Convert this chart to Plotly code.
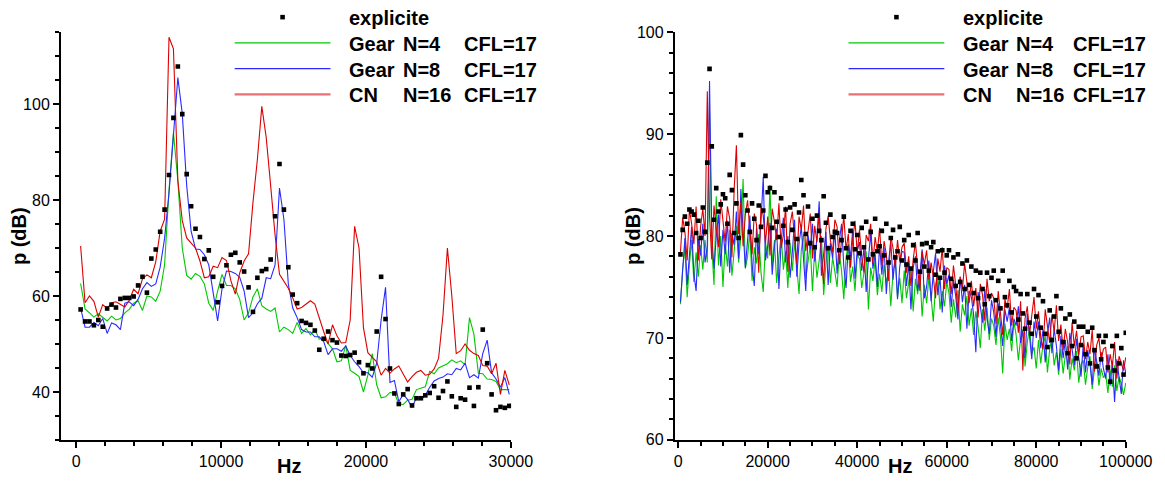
import numpy as np
import plotly.graph_objects as go

# ------------------------------------------------------------------
# Left panel: 0 - 30 kHz, spectra sampled every 305 Hz
# ------------------------------------------------------------------
DF_LEFT = 305.0

left_explicite = [
    57.2, 54.7, 54.7, 53.9, 55.0, 53.6, 57.4, 58.2, 57.6, 59.4,
    59.6, 59.6, 59.9, 62.2, 64.0, 60.7, 67.8, 69.7, 73.4, 78.0,
    85.2, 97.1, 107.8, 97.9, 85.4, 78.7, 74.0, 72.3, 67.7, 69.5,
    64.0, 58.7, 62.1, 66.4, 68.6, 69.0, 67.0, 65.1, 61.8, 56.7,
    63.8, 65.2, 65.6, 67.6, 76.6, 87.5, 78.0, 66.0, 60.3, 58.5,
    54.8, 54.4, 54.0, 52.8, 48.8, 51.1, 52.6, 50.8, 50.3, 47.6,
    47.5, 47.7, 48.2, 46.2, 43.9, 45.6, 44.9, 52.6, 64.0, 55.2,
    44.9, 39.7, 37.5, 39.5, 40.6, 37.2, 38.7, 38.7, 39.3, 39.8,
    41.2, 38.8, 40.2, 42.2, 39.1, 36.9, 38.7, 38.4, 40.9, 37.1,
    41.0, 53.0, 46.0, 39.5, 36.2, 36.9, 36.7, 37.1,
]

left_gear4 = [
    62.6, 57.3, 56.5, 55.6, 56.3, 55.5, 54.8, 55.8, 55.0, 55.3,
    56.5, 57.2, 58.5, 59.0, 57.0, 60.0, 59.8, 58.9, 61.0, 66.5,
    82.0, 94.0, 84.0, 70.0, 64.3, 63.5, 64.7, 64.1, 62.5, 58.5,
    57.0, 61.0, 64.5, 62.2, 62.2, 61.5, 59.3, 55.0, 56.5, 59.8,
    61.5, 58.0, 57.3, 56.8, 57.5, 52.5, 53.5, 53.0, 52.2, 54.5,
    52.2, 53.2, 51.9, 53.0, 51.0, 51.2, 50.2, 49.0, 46.3, 46.5,
    49.7, 44.5, 43.9, 43.2, 40.0, 43.5, 48.0, 41.5, 38.8, 39.0,
    39.9, 39.8, 37.5, 37.4, 38.3, 38.5, 40.5, 40.8, 41.1, 44.3,
    43.8, 45.0, 45.4, 45.9, 46.7, 46.1, 46.5, 45.7, 55.5, 52.0,
    43.9, 43.8, 42.7, 42.6, 42.2, 40.5, 40.5, 40.5,
]

left_gear8 = [
    57.5, 53.5, 53.5, 54.5, 53.8, 55.3, 52.2, 54.4, 54.0, 53.0,
    58.5, 58.8, 58.0, 59.3, 61.5, 62.8, 62.0, 62.5, 66.0, 72.0,
    81.5, 93.0, 105.5, 98.0, 83.0, 73.5, 69.8, 69.7, 68.6, 66.5,
    61.0, 54.8, 61.5, 65.2, 65.1, 64.7, 63.9, 61.0, 55.5, 56.5,
    58.4, 59.5, 63.8, 63.6, 66.5, 82.5, 76.0, 62.5, 57.5, 55.5,
    53.0, 52.5, 52.5, 51.5, 51.5, 50.5, 47.8, 49.0, 49.0, 48.5,
    49.6, 47.6, 46.3, 45.3, 44.0, 44.0, 43.1, 46.0, 55.0, 61.8,
    42.0, 42.4, 38.0, 39.5, 38.4, 36.8, 38.8, 38.4, 39.3, 41.0,
    42.3, 42.8, 43.1, 43.8, 43.6, 44.9, 44.6, 46.0, 43.0, 43.6,
    42.9, 48.0, 50.8, 44.0, 42.7, 41.0, 43.0, 39.5,
]

left_cn16 = [
    70.4, 58.6, 60.0, 58.9, 55.6, 58.2, 57.4, 58.6, 58.8, 58.2,
    57.7, 59.1, 61.4, 60.5, 63.6, 64.4, 63.8, 67.1, 73.5, 76.0,
    113.9, 111.5, 84.0, 75.7, 72.1, 71.0, 70.0, 67.3, 63.8, 64.0,
    66.2, 65.9, 68.0, 67.4, 63.2, 60.4, 64.8, 67.3, 68.8, 79.5,
    88.5, 99.5, 93.0, 83.0, 72.7, 64.5, 63.0, 61.6, 59.6, 57.3,
    57.6, 58.3, 59.0, 58.3, 55.3, 52.6, 50.0, 54.0, 51.7, 50.2,
    50.3, 55.0, 74.5, 70.0, 53.4, 48.2, 47.2, 46.3, 43.5, 44.9,
    43.9, 44.8, 45.4, 43.6, 42.1, 43.2, 44.1, 44.5, 43.5, 43.7,
    44.8, 47.0, 56.0, 70.0, 60.0, 48.0, 48.6, 50.0, 48.7, 48.0,
    47.6, 45.5, 45.4, 43.8, 46.0, 39.5, 44.5, 41.5,
]

# ------------------------------------------------------------------
# Right panel: 0 - 100 kHz, spectra sampled every 500 Hz
# ------------------------------------------------------------------
DF_RIGHT = 500.0

right_explicite = [
    78.2, 80.6, 81.9, 81.2, 82.6, 82.4, 82.1, 80.3, 81.5, 79.8,
    82.8, 80.4, 87.2, 96.4, 88.8, 81.6, 84.7, 82.4, 83.1, 84.1,
    83.7, 81.2, 86.0, 84.5, 80.3, 83.2, 79.8, 89.9, 87.0, 84.0,
    82.5, 80.4, 83.2, 81.7, 79.6, 83.0, 80.9, 82.5, 85.9, 84.3,
    84.7, 80.8, 84.3, 81.4, 79.9, 83.7, 81.0, 82.6, 79.4, 82.8,
    80.6, 83.1, 79.7, 82.3, 85.5, 84.0, 80.2, 82.9, 79.3, 81.7,
    78.9, 82.0, 80.5, 79.6, 83.9, 81.3, 78.8, 82.1, 79.9, 80.4,
    80.3, 78.6, 79.6, 81.9, 78.8, 77.9, 80.5, 81.2, 78.7, 80.1,
    78.3, 80.8, 78.9, 81.4, 77.7, 80.4, 78.2, 81.7, 78.5, 79.0,
    80.5, 78.1, 81.2, 77.4, 79.8, 80.6, 77.9, 78.5, 80.9, 77.6,
    79.6, 77.2, 80.1, 76.8, 79.1, 77.6, 80.3, 76.5, 79.2, 77.0,
    79.3, 76.6, 78.9, 79.4, 76.2, 78.5, 75.9, 78.6, 76.4, 78.1,
    78.6, 75.8, 77.9, 75.1, 78.2, 75.5, 77.3, 74.8, 77.6, 75.2,
    77.0, 74.4, 76.6, 73.9, 76.4, 74.8, 73.3, 76.4, 74.1, 75.9,
    76.6, 73.7, 75.6, 72.9, 76.6, 74.0, 73.2, 75.6, 72.5, 75.0,
    74.6, 71.8, 74.3, 72.4, 70.9, 74.3, 71.5, 70.4, 74.8, 72.1,
    74.2, 71.0, 73.6, 70.4, 69.1, 72.7, 69.8, 72.1, 74.1, 70.6,
    72.9, 69.6, 71.9, 68.5, 72.3, 69.2, 71.6, 68.0, 71.1, 69.3,
    71.1, 68.4, 70.6, 67.5, 71.0, 68.8, 67.2, 70.2, 67.9, 69.6,
    70.2, 67.1, 65.7, 69.2, 66.8, 70.2, 67.5, 69.0, 66.4, 70.5,
]

right_gear4 = [
    73.3, 76.8, 78.9, 74.0, 77.2, 79.6, 75.5, 78.4, 76.0, 79.1,
    76.7, 79.6, 77.4, 92.3, 79.0, 75.2, 83.9, 77.1, 80.0, 75.0,
    79.3, 77.0, 80.6, 76.1, 78.5, 81.0, 77.4, 79.9, 85.6, 76.8,
    78.0, 80.4, 75.6, 78.9, 77.3, 80.2, 76.4, 74.5, 79.4, 77.8,
    85.0, 77.1, 79.6, 75.4, 78.0, 80.1, 76.7, 78.5, 74.9, 79.3,
    76.6, 79.4, 77.0, 74.3, 78.6, 80.2, 75.8, 77.7, 79.1, 74.6,
    78.8, 75.9, 77.6, 80.0, 74.2, 77.3, 79.1, 75.4, 77.9, 76.5,
    75.0, 78.3, 76.6, 73.8, 77.9, 79.2, 75.5, 77.0, 74.6, 78.1,
    77.8, 74.9, 76.4, 78.5, 72.8, 76.9, 75.6, 77.7, 74.2, 76.3,
    74.5, 77.2, 75.3, 76.8, 73.1, 76.4, 77.6, 74.0, 75.9, 73.4,
    76.6, 73.9, 75.5, 77.0, 72.6, 75.8, 74.3, 76.4, 72.1, 75.2,
    73.4, 75.9, 74.0, 71.6, 75.2, 76.3, 72.8, 74.6, 73.1, 75.5,
    74.4, 71.5, 73.8, 72.0, 74.7, 70.6, 73.3, 72.2, 74.1, 71.2,
    72.9, 70.3, 72.6, 71.1, 69.0, 72.8, 70.7, 73.0, 69.8, 71.9,
    71.2, 69.3, 72.0, 70.1, 66.5, 71.4, 69.8, 70.9, 68.7, 71.6,
    70.3, 67.8, 69.9, 70.8, 67.2, 69.6, 71.0, 68.4, 69.1, 67.0,
    69.8, 67.5, 69.3, 70.2, 66.6, 68.9, 70.0, 67.3, 68.6, 66.4,
    68.9, 66.5, 68.3, 69.2, 65.9, 68.0, 66.8, 68.7, 65.6, 67.4,
    67.8, 65.4, 67.1, 68.2, 65.0, 66.9, 67.6, 65.3, 67.0, 66.1,
    66.5, 64.6, 66.9, 65.2, 67.3, 64.8, 66.2, 65.5, 64.4, 65.6,
]

right_gear8 = [
    73.5, 77.0, 79.8, 75.2, 78.6, 80.9, 76.3, 74.6, 79.7, 78.1,
    81.2, 77.4, 79.0, 95.2, 80.1, 76.8, 79.9, 82.1, 77.0, 80.6,
    78.2, 81.5, 76.4, 80.3, 79.1, 82.4, 77.8, 84.6, 80.5, 76.9,
    79.6, 82.0, 77.3, 75.1, 80.8, 78.2, 81.4, 85.8, 77.6, 79.0,
    81.3, 76.2, 78.9, 80.7, 74.8, 79.5, 81.8, 77.4, 80.0, 75.9,
    78.4, 81.6, 76.0, 79.3, 80.9, 77.2, 74.6, 80.1, 78.7, 81.2,
    77.5, 79.9, 83.4, 76.1, 78.6, 80.4, 75.2, 79.3, 77.8, 80.6,
    76.3, 79.5, 81.2, 77.0, 74.9, 79.1, 78.0, 80.7, 75.8, 78.6,
    79.4, 76.6, 78.9, 74.5, 77.7, 80.3, 76.8, 78.2, 75.0, 79.1,
    76.2, 78.9, 74.3, 77.5, 79.4, 75.7, 78.1, 73.8, 77.0, 78.5,
    78.4, 75.1, 77.3, 72.8, 76.9, 78.0, 74.6, 76.2, 78.7, 73.9,
    75.0, 77.6, 73.6, 76.5, 78.3, 74.2, 75.9, 72.5, 77.1, 75.3,
    76.2, 73.0, 75.7, 74.1, 71.8, 76.0, 73.5, 75.2, 70.9, 74.6,
    74.0, 72.3, 68.6, 74.5, 73.1, 71.5, 74.8, 72.0, 70.4, 73.7,
    72.5, 70.1, 73.4, 71.3, 69.2, 72.8, 71.6, 73.0, 69.7, 71.9,
    71.2, 73.1, 69.5, 70.7, 68.0, 72.4, 70.2, 67.9, 71.6, 70.0,
    71.6, 69.0, 70.8, 67.6, 70.3, 72.0, 68.5, 70.9, 69.2, 66.8,
    70.2, 68.0, 69.8, 66.9, 70.5, 68.7, 67.3, 69.9, 68.1, 66.2,
    69.4, 66.6, 68.8, 67.5, 65.4, 69.0, 67.7, 66.3, 68.6, 67.0,
    66.0, 68.4, 65.3, 67.7, 63.7, 67.9, 66.1, 64.5, 67.8, 66.5,
]

right_cn16 = [
    78.4, 81.8, 80.4, 77.6, 82.6, 81.2, 79.2, 82.9, 77.6, 80.9,
    82.7, 80.0, 94.2, 81.9, 77.7, 83.0, 80.8, 78.9, 83.6, 81.3,
    79.4, 82.9, 81.7, 77.9, 84.5, 88.9, 80.2, 83.4, 79.0, 82.1,
    83.5, 80.6, 78.2, 82.2, 81.1, 76.4, 83.0, 82.0, 79.3, 81.9,
    78.1, 82.7, 81.4, 79.6, 83.2, 78.8, 80.1, 82.9, 76.5, 81.2,
    82.4, 79.7, 77.3, 81.9, 80.6, 83.0, 78.5, 80.4, 82.2, 77.8,
    81.0, 79.4, 82.3, 78.1, 75.3, 80.7, 82.0, 79.6, 78.4, 81.6,
    80.9, 77.2, 79.8, 82.0, 78.6, 80.2, 76.9, 79.7, 81.5, 78.3,
    80.6, 78.0, 76.4, 80.1, 79.5, 81.2, 77.3, 79.9, 78.4, 80.8,
    77.1, 79.5, 78.2, 75.6, 80.0, 78.8, 76.9, 79.6, 77.5, 78.9,
    79.3, 76.4, 78.0, 75.1, 77.7, 79.4, 76.8, 74.6, 78.5, 77.2,
    78.6, 75.7, 77.4, 76.0, 73.9, 77.8, 76.5, 78.9, 74.8, 76.9,
    76.7, 74.3, 77.1, 75.2, 72.6, 76.0, 74.8, 77.3, 75.5, 73.4,
    75.6, 73.1, 74.9, 72.0, 75.3, 74.2, 71.7, 75.8, 73.6, 74.4,
    73.9, 71.4, 74.6, 72.5, 70.3, 73.8, 72.9, 74.8, 71.2, 73.0,
    72.7, 70.5, 73.6, 66.8, 71.9, 73.1, 70.4, 72.2, 74.0, 70.9,
    72.6, 70.1, 68.9, 72.8, 71.0, 69.5, 72.3, 70.6, 73.2, 69.7,
    71.3, 68.8, 70.9, 69.6, 67.4, 71.5, 69.2, 70.7, 68.3, 70.1,
    70.2, 67.9, 69.6, 68.4, 70.8, 66.7, 69.3, 70.0, 67.8, 68.9,
    69.1, 66.6, 68.4, 67.2, 69.6, 66.0, 68.2, 67.5, 66.8, 68.1,
]

left_freq = DF_LEFT * np.arange(1, len(left_explicite) + 1)
right_freq = DF_RIGHT * np.arange(1, len(right_explicite) + 1)

SERIES_NAMES = ["explicite", "Gear N=4   CFL=17", "Gear N=8   CFL=17", "CN    N=16 CFL=17"]
LEGEND_COLS = [["explicite"], ["Gear", "N=4", "CFL=17"], ["Gear", "N=8", "CFL=17"], ["CN", "N=16", "CFL=17"]]

GREEN = "#00c800"
BLUE = "#2a2aff"
RED = "#dc0000"
BLACK = "#000000"
FONT = "Liberation Sans, Arial, Helvetica, sans-serif"

# ------------------------------------------------------------------
# Page geometry (pixels)
# ------------------------------------------------------------------
FIG_W, FIG_H = 1165, 482
ML, MR, MT, MB = 61, 37, 32, 38
PW = FIG_W - ML - MR
PH = FIG_H - MT - MB


def px(xp):
    return (xp - ML) / PW


def py(yp):
    return 1 - (yp - MT) / PH


fig = go.Figure()


def add_panel(freq, expl, g4, g8, cn, xa, ya):
    for vals, col, name in ((g4, GREEN, SERIES_NAMES[1]),
                            (g8, BLUE, SERIES_NAMES[2]),
                            (cn, RED, SERIES_NAMES[3])):
        fig.add_trace(go.Scatter(x=freq, y=vals, mode="lines", name=name,
                                 line=dict(color=col, width=1.1),
                                 xaxis=xa, yaxis=ya, showlegend=False))
    fig.add_trace(go.Scatter(x=freq, y=expl, mode="markers", name=SERIES_NAMES[0],
                             marker=dict(symbol="square", size=4.6, color=BLACK,
                                         line=dict(width=0)),
                             xaxis=xa, yaxis=ya, showlegend=False))


add_panel(left_freq, left_explicite, left_gear4, left_gear8, left_cn16, "x", "y")
add_panel(right_freq, right_explicite, right_gear4, right_gear8, right_cn16, "x2", "y2")

axis_base = dict(showline=True, linewidth=2, linecolor=BLACK, ticks="outside",
                 ticklen=6, tickwidth=2, tickcolor=BLACK, showgrid=False,
                 zeroline=False, tickfont=dict(family=FONT, size=16, color=BLACK),
                 tick0=0, tickformat="d")


def minor(dt):
    return dict(ticks="outside", ticklen=4, tickwidth=1.5, tickcolor=BLACK,
                dtick=dt, tick0=0, showgrid=False)


fig.update_layout(
    width=FIG_W, height=FIG_H,
    margin=dict(l=ML, r=MR, t=MT, b=MB),
    paper_bgcolor="white", plot_bgcolor="white",
    showlegend=False,
    xaxis=dict(axis_base, domain=[0, px(512)], range=[-1050, 30020], dtick=10000,
               minor=minor(2000), anchor="y"),
    yaxis=dict(axis_base, domain=[0, 1], range=[30, 115], dtick=20,
               minor=minor(5), anchor="x"),
    xaxis2=dict(axis_base, domain=[px(676), 1], range=[-750, 100050], dtick=20000,
                minor=minor(5000), anchor="y2"),
    yaxis2=dict(axis_base, domain=[0, 1], range=[59.98, 100.02], dtick=10,
                minor=minor(2), anchor="x2"),
)

annotations = []
shapes = []

# axis titles
for xc, yc_title_x in ((289, 19), (902, 634)):
    annotations.append(dict(text="<b>Hz</b>", x=px(xc), y=py(470), xref="paper", yref="paper",
                            showarrow=False, xanchor="center", yanchor="middle",
                            font=dict(family=FONT, size=20, color=BLACK)))
    annotations.append(dict(text="<b>p (dB)</b>", x=px(yc_title_x), y=py(238), xref="paper",
                            yref="paper", showarrow=False, textangle=-90,
                            xanchor="center", yanchor="middle",
                            font=dict(family=FONT, size=20, color=BLACK)))

# legend blocks (one per panel)
legend_rows_y = [17, 43, 69, 95]
line_colors = [GREEN, BLUE, "#e87070"]
line_widths = [1.2, 1.2, 2.4]
for marker_x, line_x0, line_x1, cols_x in ((283, 235, 331, (348, 402, 463)),
                                           (898, 850, 946, (963, 1016, 1073))):
    # explicite sample
    shapes.append(dict(type="rect", xref="paper", yref="paper",
                       x0=px(marker_x - 2.3), x1=px(marker_x + 2.3),
                       y0=py(legend_rows_y[0] + 2.3), y1=py(legend_rows_y[0] - 2.3),
                       fillcolor=BLACK, line=dict(width=0)))
    for i in range(3):
        yy = legend_rows_y[i + 1]
        shapes.append(dict(type="line", xref="paper", yref="paper",
                           x0=px(line_x0), x1=px(line_x1), y0=py(yy), y1=py(yy),
                           line=dict(color=line_colors[i], width=line_widths[i])))
    for row, parts in enumerate(LEGEND_COLS):
        for j, part in enumerate(parts):
            annotations.append(dict(text="<b>%s</b>" % part, x=px(cols_x[j]),
                                    y=py(legend_rows_y[row] + 1), xref="paper", yref="paper",
                                    showarrow=False, xanchor="left", yanchor="middle",
                                    font=dict(family=FONT, size=20, color=BLACK)))

fig.update_layout(annotations=annotations, shapes=shapes)

fig.write_html("out.html")
